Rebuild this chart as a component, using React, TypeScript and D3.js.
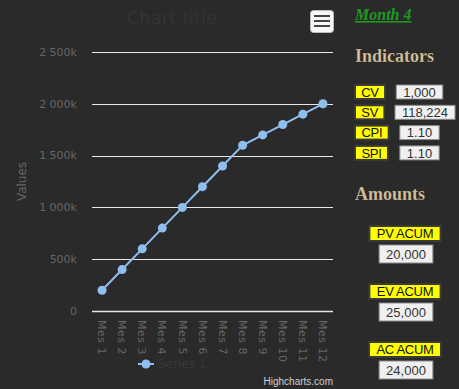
import React from 'react';
import * as d3 from 'd3';

const months = ['Mes 1', 'Mes 2', 'Mes 3', 'Mes 4', 'Mes 5', 'Mes 6', 'Mes 7', 'Mes 8', 'Mes 9', 'Mes 10', 'Mes 11', 'Mes 12'];
const seriesValues = [200000, 400000, 600000, 800000, 1000000, 1200000, 1400000, 1600000, 1700000, 1800000, 1900000, 2000000];
const yTicks = [0, 500000, 1000000, 1500000, 2000000, 2500000];

const indicatorLabels = ['CV', 'SV', 'CPI', 'SPI'];
const indicatorValues = ['1,000', '118,224', '1.10', '1.10'];
const amountLabels = ['PV ACUM', 'EV ACUM', 'AC ACUM'];
const amountValues = ['20,000', '25,000', '24,000'];

const W = 459;
const H = 389;
const margin = { top: 52, right: 126, bottom: 78, left: 92 };

let ctx: CanvasRenderingContext2D | null = null;
const textWidth = (s: string, font: string) => {
  if (!ctx) ctx = document.createElement('canvas').getContext('2d');
  if (!ctx) return s.length * 7;
  ctx.font = font;
  return ctx.measureText(s).width;
};

const fmtTick = (d: number) => (d === 0 ? '0' : d3.format(',')(d / 1000).replace(/,/g, ' ') + 'k');

const boxFont = '13px "Liberation Sans", Arial, sans-serif';
const seriesColor = '#8ebfee';

// yellow label box
const LabelBox = ({ x, y, text, h }: { x: number; y: number; text: string; h: number }) => {
  const w = textWidth(text, boxFont) + 12;
  return (
    <g>
      <rect x={x} y={y} width={w} height={h} fill="#ffff00" stroke="#3a3a3a" strokeWidth={2} />
      <text x={x + w / 2} y={y + h / 2} dy="0.36em" textAnchor="middle" fontSize={13} letterSpacing={-0.3}
        fontFamily='"Liberation Sans", Arial, sans-serif' fill="#111">{text}</text>
    </g>
  );
};

const ValueBox = ({ cx, y, text, h, minX }: { cx: number; y: number; text: string; h: number; minX?: number }) => {
  const w = textWidth(text, boxFont) + 14;
  const x = minX !== undefined ? Math.max(minX, cx - w / 2) : cx - w / 2;
  return (
    <g>
      <rect x={x} y={y} width={w} height={h} fill="#f0f0f0" stroke="#8a8a8a" strokeWidth={1} />
      <text x={x + w / 2} y={y + h / 2} dy="0.36em" textAnchor="middle" fontSize={13}
        fontFamily='"Liberation Sans", Arial, sans-serif' fill="#333">{text}</text>
    </g>
  );
};

export default function App() {
  const x = d3.scaleBand<string>()
    .domain(months)
    .range([margin.left, W - margin.right]);
  const y = d3.scaleLinear()
    .domain([0, 2500000])
    .range([H - margin.bottom, margin.top]);

  const cx = (m: string) => (x(m) ?? 0) + x.bandwidth() / 2;

  const line = d3.line<number>()
    .x((_, i) => cx(months[i]))
    .y(d => y(d));

  const labelFont = '"DejaVu Sans", sans-serif';

  return (
    <div style={{ position: 'absolute', left: 0, top: 0 }}>
      <svg width={W} height={H} style={{ display: 'block' }}>
        <rect width={W} height={H} fill="#2a2a2b" />

        {/* title */}
        <text x={172} y={24} textAnchor="middle" fontSize={18} fill="#333335" fontFamily={labelFont}>Chart title</text>

        {/* export button */}
        <rect x={310.5} y={10.5} width={23} height={22} rx={3} fill="#f7f7f7" stroke="#bbb" />
        {[16, 21, 26].map(v => (
          <line key={v} x1={314} x2={330} y1={v} y2={v} stroke="#444" strokeWidth={2} />
        ))}

        {/* grid */}
        {yTicks.map(t => (
          <g key={t}>
            <line x1={margin.left} x2={W - margin.right} y1={Math.round(y(t)) + 0.5} y2={Math.round(y(t)) + 0.5}
              stroke="#e6e6e6" strokeWidth={t === 0 ? 1.5 : 1.2} />
            <text x={77} y={y(t)} dy="0.35em" textAnchor="end" fontSize={11} fill="#666" fontFamily={labelFont}>{fmtTick(t)}</text>
          </g>
        ))}

        <text transform={`translate(26,${(margin.top + H - margin.bottom) / 2}) rotate(-90)`} textAnchor="middle"
          fontSize={12} fill="#666" fontFamily={labelFont}>Values</text>

        {/* x labels */}
        {months.map(m => (
          <text key={m} transform={`translate(${cx(m)},320) rotate(90)`} dy="0.35em" fontSize={11}
            letterSpacing={0.5} fill="#666" fontFamily={labelFont}>{m}</text>
        ))}

        {/* series */}
        <path d={line(seriesValues) ?? ''} fill="none" stroke={seriesColor} strokeWidth={2} />
        {seriesValues.map((v, i) => (
          <circle key={i} cx={cx(months[i])} cy={y(v)} r={4.5} fill={seriesColor} />
        ))}

        {/* legend */}
        <line x1={138} x2={154} y1={364} y2={364} stroke={seriesColor} strokeWidth={2} />
        <circle cx={146} cy={364} r={4.5} fill={seriesColor} />
        <text x={158} y={364} dy="0.35em" fontSize={12} fill="#38383a" fontFamily={labelFont}>Series 1</text>

        <text x={333} y={385} textAnchor="end" fontSize={10} fill="#cfcfcf"
          fontFamily='"Liberation Sans", Arial, sans-serif'>Highcharts.com</text>

        {/* right panel */}
        <text x={355} y={20} fontSize={16} fontWeight="bold" fontStyle="italic" fill="#1f9a1f"
          textDecoration="underline" fontFamily='"Liberation Serif", "Times New Roman", serif'>Month 4</text>
        <text x={355} y={62} fontSize={18} fontWeight="bold" fill="#d6c39b" stroke="#000" strokeOpacity={0.15}
          fontFamily='"Liberation Serif", "Times New Roman", serif'>Indicators</text>

        {indicatorLabels.map((l, i) => (
          <g key={l}>
            <LabelBox x={355} y={85 + i * 20.3} h={14} text={l} />
            <ValueBox cx={419.5} minX={395} y={85 + i * 20.3} h={14} text={indicatorValues[i]} />
          </g>
        ))}

        <text x={355} y={200} fontSize={18} fontWeight="bold" fill="#d6c39b" stroke="#000" strokeOpacity={0.15}
          fontFamily='"Liberation Serif", "Times New Roman", serif'>Amounts</text>

        {amountLabels.map((l, i) => {
          const w = textWidth(l, boxFont) + 12;
          return (
            <g key={l}>
              <LabelBox x={405 - w / 2} y={226 + i * 58} h={15} text={l} />
              <ValueBox cx={406} y={245 + i * 58} h={18} text={amountValues[i]} />
            </g>
          );
        })}
      </svg>
    </div>
  );
}
